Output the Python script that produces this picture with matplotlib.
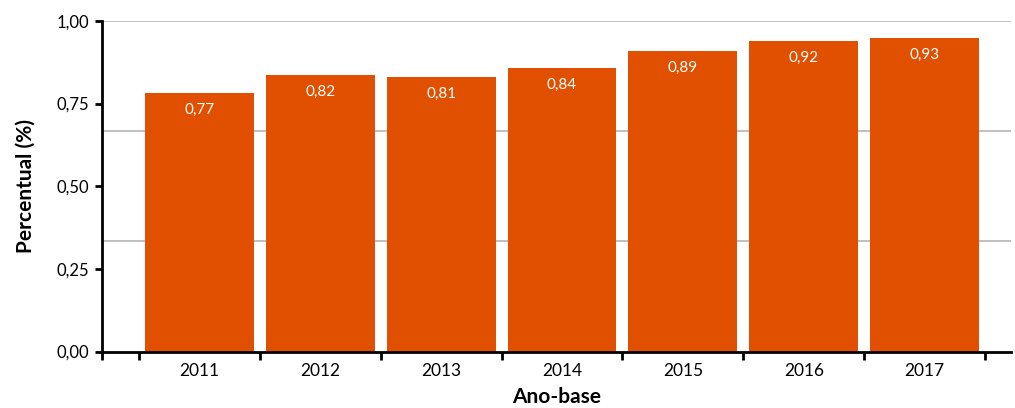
import matplotlib.pyplot as plt
from matplotlib.ticker import FixedLocator, FuncFormatter

# values (bar heights) and the printed labels
anos = ["2011", "2012", "2013", "2014", "2015", "2016", "2017"]
alturas = [0.782, 0.836, 0.830, 0.857, 0.909, 0.939, 0.948]
rotulos = ["0,77", "0,82", "0,81", "0,84", "0,89", "0,92", "0,93"]
yticks = [0.0, 0.25, 0.50, 0.75, 1.00]
grades = [1/3, 2/3, 1.0]

plt.rcParams['font.family'] = ['Lato', 'DejaVu Sans']

fig = plt.figure(figsize=(10.15, 4.08), dpi=100)
ax = fig.add_axes([102/1015, (408-351.5)/408, (1011-102)/1015, (351.5-21)/408])

x = range(len(anos))
for g in grades:
    ax.axhline(g, color="#b4b4b4", lw=1.2, zorder=0)
barras = ax.bar(x, alturas, width=0.9, color="#e05000", zorder=2)

for xi, h, r in zip(x, alturas, rotulos):
    ax.annotate(r, (xi, h), xytext=(0, -12), textcoords="offset points",
                ha="center", va="center", color="white", fontsize=11, zorder=3)

ax.set_ylim(0, 1.0)
ax.set_xlim(-0.806, 6.715)
ax.yaxis.set_major_locator(FixedLocator(yticks))
ax.yaxis.set_major_formatter(FuncFormatter(lambda v, p: f"{v:.2f}".replace(".", ",")))

# category labels centred, ticks at the boundaries
ax.set_xticks([i - 0.5 for i in range(len(anos) + 1)] + [-0.806])
ax.set_xticklabels([])
ax.set_xticks(list(x), minor=True)
ax.set_xticklabels(anos, minor=True, fontsize=12.5)
ax.tick_params(axis="x", which="minor", length=0, pad=8)
ax.tick_params(axis="x", which="major", length=6, width=2, direction="out")
ax.tick_params(axis="y", length=5, width=2, labelsize=12, pad=4)

for s in ["top", "right"]:
    ax.spines[s].set_visible(False)
for s in ["left", "bottom"]:
    ax.spines[s].set_linewidth(2)

ax.set_ylabel("Percentual (%)", fontsize=15, fontweight="bold", labelpad=15)
ax.set_xlabel("Ano-base", fontsize=15, fontweight="bold", labelpad=6)

fig.savefig("out.png", dpi=100)
